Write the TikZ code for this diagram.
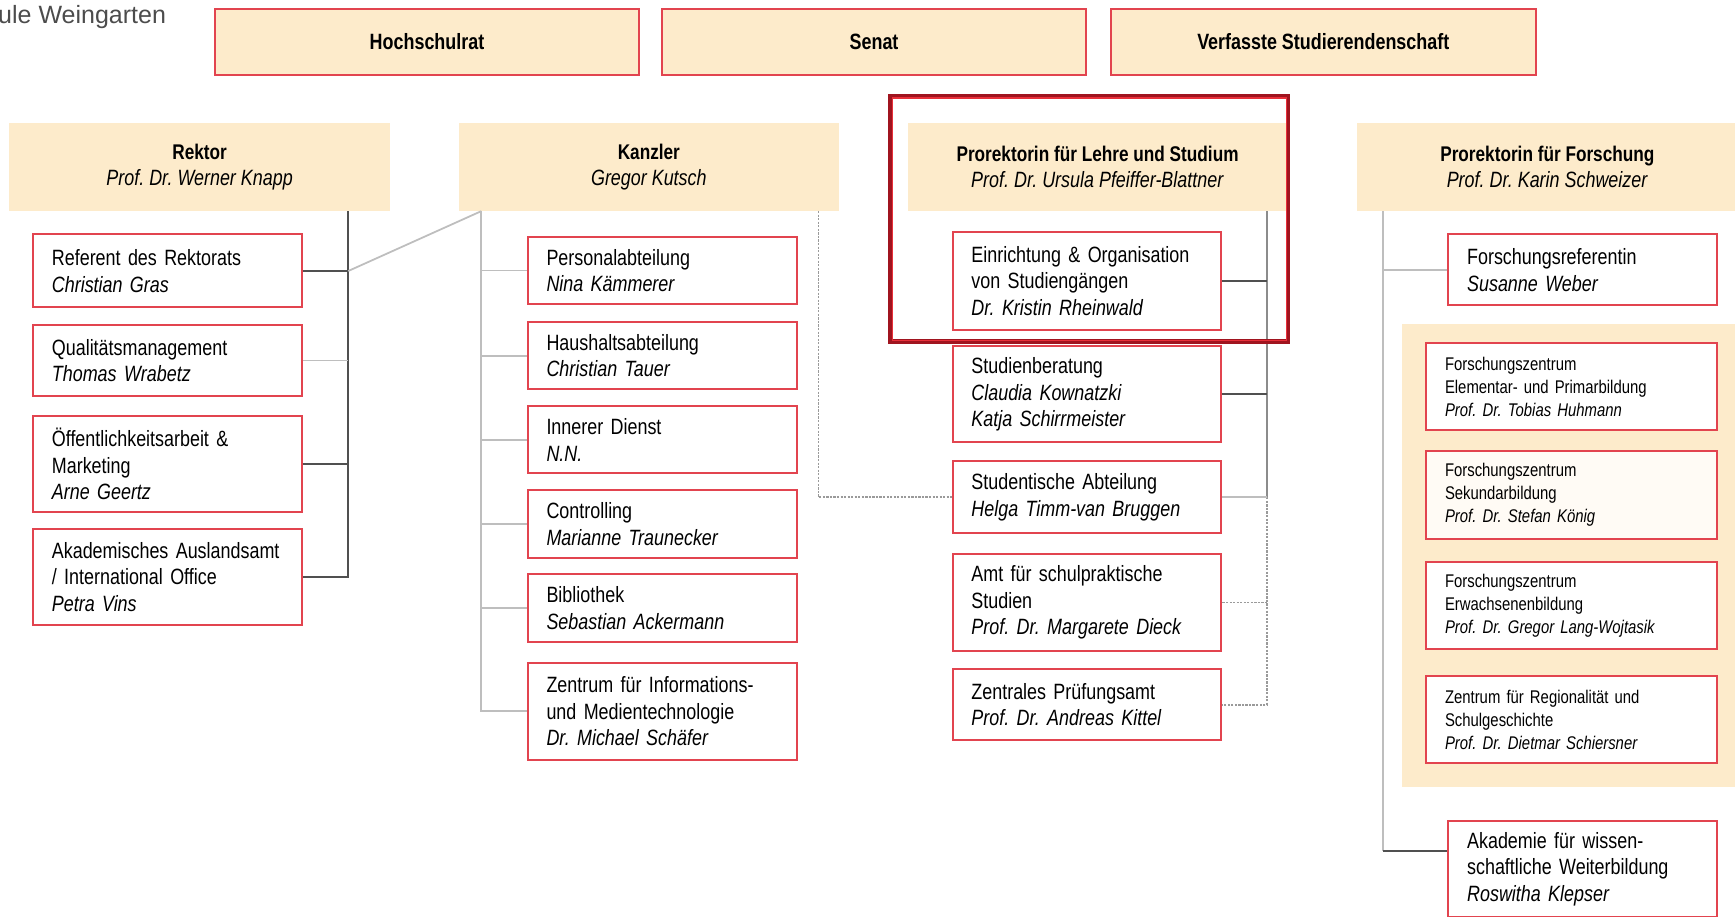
\documentclass[tikz,border=0pt]{standalone}
\usepackage{fontspec}
\setmainfont{Liberation Sans}[FakeStretch=0.81]
\newfontfamily\logofont{Liberation Sans}
\usetikzlibrary{calc}
\frenchspacing
\definecolor{beige}{HTML}{FDEBCB}
\definecolor{boxred}{HTML}{E2444F}
\definecolor{darkred}{HTML}{A0141F}
\definecolor{hellred}{HTML}{E8303A}
\definecolor{lightline}{HTML}{BEBEBE}
\definecolor{darkline}{HTML}{505050}
\definecolor{midline}{HTML}{8C8C8C}
\definecolor{dotline}{HTML}{9A9A9A}
\newcommand{\titel}[1]{{\fontsize{9.6}{12}\selectfont\bfseries #1}}
\tikzset{gremium/.style={draw=boxred, fill=beige, line width=0.9pt, anchor=north west,
           minimum width=192pt, minimum height=30pt, font=\fontsize{10}{12}\selectfont\bfseries},
         leitung/.style={fill=beige, anchor=north west, align=center, inner sep=0pt,
           minimum width=172pt, minimum height=39.5pt, font=\fontsize{10}{12}\selectfont},
         stelle/.style={draw=boxred, fill=white, line width=0.9pt, anchor=north west,
           align=left, text width=104.5pt, inner xsep=8.5pt, inner ysep=0pt,
           minimum height=32pt, font=\fontsize{10}{12}\selectfont},
         stelledrei/.style={stelle, minimum height=43.5pt},
         zentrum/.style={stelle, text width=114.5pt, minimum height=39.5pt,
           font=\fontsize{8.3}{10.4}\selectfont},
         hell/.style={draw=lightline, line width=0.8pt},
         dunkel/.style={draw=darkline, line width=0.8pt},
         mittel/.style={draw=midline, line width=0.8pt},
         punkte/.style={draw=dotline, line width=0.7pt, dash pattern=on 1pt off 0.6pt}}
\begin{document}
\begin{tikzpicture}[x=0.5pt,y=-0.5pt]
\useasboundingbox (0,0) rectangle (1568,828);
\clip (0,0) rectangle (1568,828);
% Logo
\node[anchor=west, inner sep=0pt, text=black!70, font=\logofont\fontsize{11.3}{12}\selectfont] (logo) at (-2,15) {ule Weingarten};
% Gremien
\node[gremium] (hsr) at (193,7) {Hochschulrat};
\node[gremium] (senat) at (597,7) {Senat};
\node[gremium] (vs) at (1003,7) {Verfasste Studierendenschaft};
% Leitung
\node[leitung] (rektor) at (8,111) {\titel{Rektor}\\\textit{Prof. Dr. Werner Knapp}};
\node[leitung] (kanzler) at (414,111) {\titel{Kanzler}\\\textit{Gregor Kutsch}};
\node[leitung, minimum width=171.5pt] (lehre) at (820,111) {\titel{Prorektorin für Lehre und Studium}\\\textit{Prof. Dr. Ursula Pfeiffer-Blattner}};
\node[leitung] (forschung) at (1226,111) {\titel{Prorektorin für Forschung}\\\textit{Prof. Dr. Karin Schweizer}};
% Rektor
\node[stelle, minimum height=33pt] (ref) at (29,211) {Referent des Rektorats\\\textit{Christian Gras}};
\node[stelle] (qm) at (29,293) {Qualitätsmanagement\\\textit{Thomas Wrabetz}};
\node[stelledrei] (oeff) at (29,375) {Öffentlichkeitsarbeit \&\\Marketing\\\textit{Arne Geertz}};
\node[stelledrei] (aaa) at (29,477) {\mbox{Akademisches Auslandsamt}\\/ International Office\\\textit{Petra Vins}};
% Kanzler
\node[stelle, minimum height=30.5pt] (pers) at (476,213) {Personalabteilung\\\textit{Nina Kämmerer}};
\node[stelle, minimum height=30.5pt] (haus) at (476,290) {Haushaltsabteilung\\\textit{Christian Tauer}};
\node[stelle, minimum height=30.5pt] (innen) at (476,366) {Innerer Dienst\\\textit{N.N.}};
\node[stelle, minimum height=30.5pt] (contr) at (476,442) {Controlling\\\textit{Marianne Traunecker}};
\node[stelle, minimum height=30.5pt] (bib) at (476,518) {Bibliothek\\\textit{Sebastian Ackermann}};
\node[stelledrei, minimum height=44pt] (zim) at (476,598) {Zentrum für Informations-\\und Medientechnologie\\\textit{Dr. Michael Schäfer}};
% Lehre und Studium
\node[stelledrei, minimum height=44pt] (einr) at (860,209) {Einrichtung \& Organisation\\von Studiengängen\\\textit{Dr. Kristin Rheinwald}};
\node[stelledrei] (berat) at (860,312) {Studienberatung\\\textit{Claudia Kownatzki}\\\textit{Katja Schirrmeister}};
\node[stelle, minimum height=32.5pt] (studab) at (860,416) {Studentische Abteilung\\\textit{Helga Timm-van Bruggen}};
\node[stelledrei] (asps) at (860,500) {Amt für schulpraktische\\Studien\\\textit{Prof. Dr. Margarete Dieck}};
\node[stelle] (zpa) at (860,604) {Zentrales Prüfungsamt\\\textit{Prof. Dr. Andreas Kittel}};
% Forschung
\node[stelle] (fref) at (1308,211) {Forschungsreferentin\\\textit{Susanne Weber}};
\fill[beige] (1267,293) rectangle (1575,711);
\node[zentrum] (fzep) at (1288,309) {Forschungszentrum\\Elementar- und Primarbildung\\\textit{Prof. Dr. Tobias Huhmann}};
\node[zentrum, fill=beige!20] (fzsek) at (1288,407) {Forschungszentrum\\Sekundarbildung\\\textit{Prof. Dr. Stefan König}};
\node[zentrum] (fzeb) at (1288,507) {Forschungszentrum\\Erwachsenenbildung\\\textit{Prof. Dr. Gregor Lang-Wojtasik}};
\node[zentrum] (zrs) at (1288,610) {Zentrum für Regionalität und\\Schulgeschichte\\\textit{Prof. Dr. Dietmar Schiersner}};
\node[stelledrei] (akad) at (1308,741) {Akademie für wissen-\\schaftliche Weiterbildung\\\textit{Roswitha Klepser}};
% Linien
\path (rektor.south east) ++(-38,0) coordinate (rkbus);
\path (kanzler.south west) ++(21,0) coordinate (kzbus);
\path (kanzler.south east) ++(-19,0) coordinate (kzdot);
\path (lehre.south east) ++(-19,0) coordinate (lsbus);
\path (forschung.south west) ++(24,0) coordinate (fobus);
\draw[dunkel] (rkbus) |- (aaa.east);
\draw[dunkel] (ref.east) -- (ref.east -| rkbus);
\draw[hell] (qm.east) -- (qm.east -| rkbus);
\draw[dunkel] (oeff.east) -- (oeff.east -| rkbus);
\draw[hell] (ref.east -| rkbus) -- (kzbus);
\draw[hell] (kzbus) |- (zim.west);
\foreach \n in {pers,haus,innen,contr,bib}
  \draw[hell] (\n.west) -- (\n.west -| kzbus);
\draw[punkte] (kzdot) |- (studab.west);
\draw[mittel] (lsbus) -- (studab.east -| lsbus);
\draw[punkte] (studab.east -| lsbus) |- (zpa.east);
\draw[dunkel] (einr.east) -- (einr.east -| lsbus);
\draw[dunkel] (berat.east) -- (berat.east -| lsbus);
\draw[hell] (studab.east) -- (studab.east -| lsbus);
\draw[punkte] (asps.east) -- (asps.east -| lsbus);
\coordinate (akadin) at ($(akad.north west)!0.32!(akad.south west)$);
\draw[hell] (fobus) -- (akadin -| fobus);
\draw[hell] (fref.west) -- (fref.west -| fobus);
\draw[dunkel] (akadin -| fobus) -- (akadin);
% Hervorhebung
\draw[darkred, line width=2.2pt] (805,87) rectangle (1164,309);
\draw[hellred, line width=0.6pt] (806.5,88.5) rectangle (1162.5,307.5);
\end{tikzpicture}
\end{document}
